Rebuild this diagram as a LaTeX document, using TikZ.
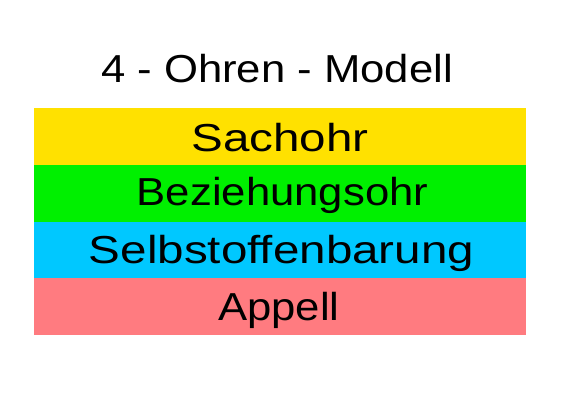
\documentclass[tikz,border=0pt]{standalone}
\usepackage{fontspec}
\setmainfont{Liberation Sans}
\newfontfamily\titlefont[FakeStretch=1.12]{Liberation Sans}
\newfontfamily\bandfont[FakeStretch=1.22]{Liberation Sans}
\newfontfamily\bandfontnarrow[FakeStretch=1.12]{Liberation Sans}
\usepackage{tikz}
\definecolor{sachyellow}{HTML}{FFE100}
\definecolor{bezgreen}{HTML}{00F000}
\definecolor{selbstblue}{HTML}{00C8FF}
\definecolor{appellred}{HTML}{FF7B80}
\tikzset{
    bandtext/.style={anchor=base, inner sep=0pt, font=\bandfont\fontsize{39}{44}\selectfont},
    bandtextnarrow/.style={bandtext, font=\bandfontnarrow\fontsize{39}{44}\selectfont}
}

\begin{document}
\begin{tikzpicture}[x=1pt, y=-1pt]
    \useasboundingbox (0,0) rectangle (565,400);

    % Title
    \node[anchor=base, inner sep=0pt, font=\titlefont\fontsize{39}{44}\selectfont] (title) at (277,82) {4 - Ohren - Modell};

    % Sachohr
    \fill[sachyellow] (34,108) rectangle (526,165);
    \node[bandtext] (sachohr) at (280,151.5) {Sachohr};

    % Beziehungsohr
    \fill[bezgreen] (34,165) rectangle (526,222);
    \node[bandtextnarrow] (beziehung) at (282.5,205) {Beziehungsohr};

    % Selbstoffenbarung
    \fill[selbstblue] (34,222) rectangle (526,278);
    \node[bandtext] (selbst) at (281.5,263) {Selbstoffenbarung};

    % Appell
    \fill[appellred] (34,278) rectangle (526,335);
    \node[bandtextnarrow] (appell) at (279,320) {Appell};
\end{tikzpicture}
\end{document}
